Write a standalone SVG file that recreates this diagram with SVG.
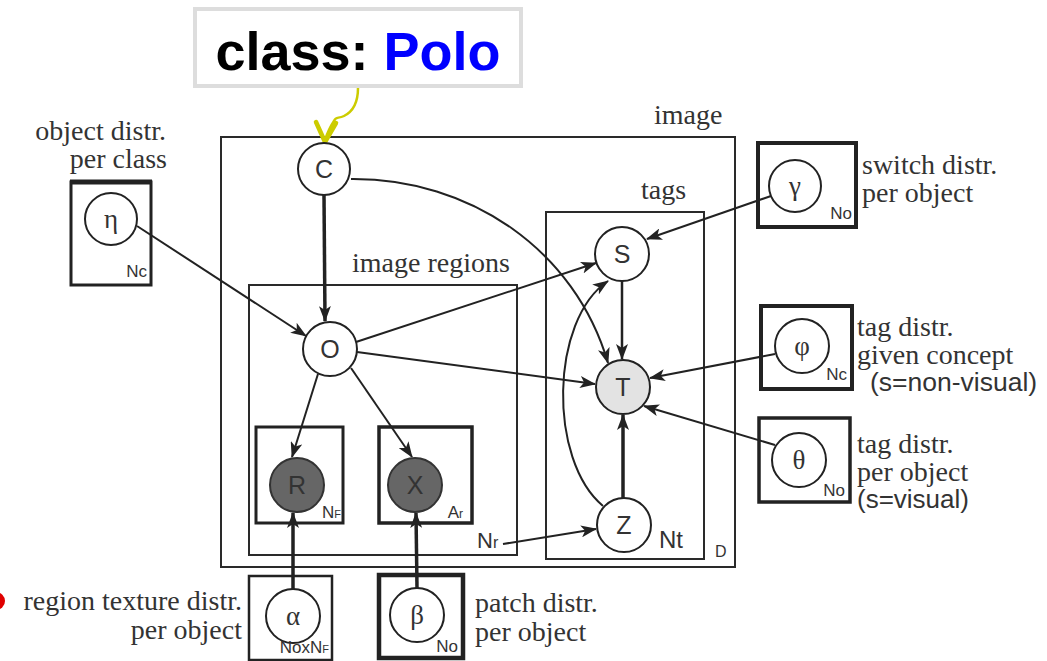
<svg xmlns="http://www.w3.org/2000/svg" width="1047" height="661" viewBox="0 0 1047 661">
<defs>
<marker id="ah" viewBox="0 0 16 12" refX="15" refY="6" markerWidth="16" markerHeight="12" markerUnits="userSpaceOnUse" orient="auto">
<path d="M0,0 L16,6 L0,12 L4,6 z" fill="#222"/>
</marker>
<style>
.plate{fill:none;stroke:#2a2a2a;stroke-width:2}
.pp{fill:none;stroke:#222;stroke-width:3.5}
.node{fill:#fff;stroke:#222;stroke-width:2}
.obs{fill:#666;stroke:#333;stroke-width:2}
.ser{font-family:"Liberation Serif","Times New Roman",serif;font-size:28px;fill:#333}
.sans{font-family:"Liberation Sans",Arial,sans-serif;fill:#333}
.nl{font-family:"Liberation Sans",Arial,sans-serif;font-size:25px;fill:#333;text-anchor:middle}
.gr{font-family:"Liberation Serif","Times New Roman",serif;font-size:27px;fill:#333;text-anchor:middle}
.sm{font-family:"Liberation Sans",Arial,sans-serif;font-size:17px;fill:#333;text-anchor:end}
.con{fill:none;stroke:#222;stroke-width:2;marker-end:url(#ah)}
.thick{stroke-width:3.5}
</style>
</defs>
<rect width="1047" height="661" fill="#fff"/>

<g id="class-label">
<rect x="195" y="9" width="326" height="77" fill="#fff" stroke="#dddddd" stroke-width="4"/>
<text x="358" y="70" text-anchor="middle" font-family="'Liberation Sans',Arial,sans-serif" font-weight="bold" font-size="54" fill="#000">class: <tspan fill="#0000ff">Polo</tspan></text>
</g>
<g id="red-mark"><circle cx="-4" cy="601" r="9" fill="#e00000"/></g>

<g id="plate-image">
<rect class="plate" x="221" y="137" width="514" height="430"/>
<text class="ser" x="654" y="124">image</text>
<text class="sans" x="715" y="557" font-size="16">D</text>
</g>
<g id="plate-regions">
<rect class="plate" x="249" y="285" width="268" height="270"/>
<text class="ser" x="352" y="272">image regions</text>
<text class="sans" x="477" y="548" font-size="22">N<tspan font-size="16">r</tspan></text>
</g>
<g id="plate-tags">
<rect class="plate" x="546" y="212" width="158" height="347"/>
<text class="ser" x="641" y="199">tags</text>
<text class="sans" x="659" y="548" font-size="24">Nt</text>
</g>

<g id="connectors">
<path d="M358,88 C358,104 352,112 344,116 C338,119 336,116 334,121 C330,127 327,134 325,140" fill="none" stroke="#cccc00" stroke-width="2.5"/>
<path d="M316,122 L325,142 L336,123" fill="none" stroke="#cccc00" stroke-width="4.5" stroke-linecap="round" stroke-linejoin="round"/>
<path class="con thick" d="M324,195 L325,321"/>
<path class="con" d="M137,226 L306,336"/>
<path class="con" d="M356,342 L596,263"/>
<path class="con" d="M357,352 L595,384"/>
<path class="con" d="M318,374 L292,457"/>
<path class="con" d="M351,368 L412,457"/>
<path class="con" d="M351,179 C470,178 575,250 608,363"/>
<path class="con" d="M622,281 L622,359" style="stroke-width:2.5"/>
<path class="con thick" d="M623,498 L623,415"/>
<path class="con" d="M603,506 C548,460 550,320 608,281"/>
<path class="con" d="M503,544 L596,529"/>
<path class="con" d="M771,196 L647,239"/>
<path class="con" d="M775,354 L650,378"/>
<path class="con" d="M775,445 L644,406"/>
<path class="con thick" d="M293,589 L293,513"/>
<path class="con thick" d="M417,588 L416,513"/>
</g>

<g id="node-C"><circle class="node" cx="324" cy="169" r="26"/><text class="nl" x="324" y="178">C</text></g>
<g id="node-O"><circle class="node" cx="330" cy="349" r="27"/><text class="nl" x="330" y="358">O</text></g>
<g id="node-S"><circle class="node" cx="622" cy="254" r="27"/><text class="nl" x="622" y="263">S</text></g>
<g id="node-T"><circle class="node" cx="623" cy="387" r="27" style="fill:#e3e3e3"/><text class="nl" x="623" y="396">T</text></g>
<g id="node-Z"><circle class="node" cx="624" cy="525" r="27"/><text class="nl" x="624" y="534">Z</text></g>

<g id="node-R">
<rect class="pp" x="256" y="427" width="87" height="96" style="stroke-width:3"/>
<circle class="obs" cx="297" cy="485" r="27"/><text class="nl" x="297" y="494">R</text>
<text class="sm" x="341" y="518" font-size="14">N<tspan font-size="11">F</tspan></text>
</g>
<g id="node-X">
<rect class="pp" x="379" y="427" width="93" height="96"/>
<circle class="obs" cx="415" cy="485" r="27"/><text class="nl" x="415" y="494">X</text>
<text class="sm" x="463" y="518" font-size="14">A<tspan font-size="12">r</tspan></text>
</g>

<g id="node-eta">
<rect class="pp" x="71" y="182" width="80" height="103" style="stroke-width:3"/>
<line x1="70" y1="182" x2="152" y2="182" stroke="#222" stroke-width="5"/>
<circle class="node" cx="111" cy="219" r="26"/><text class="gr" x="111" y="228">η</text>
<text class="sm" x="147" y="277">Nc</text>
<text class="ser" x="166" y="140" text-anchor="end">object distr.</text>
<text class="ser" x="167" y="168" text-anchor="end">per class</text>
</g>
<g id="node-gamma">
<rect class="pp" x="758" y="143" width="98" height="84" style="stroke-width:4"/>
<circle class="node" cx="795" cy="186" r="26"/><text class="gr" x="795" y="195">γ</text>
<text class="sm" x="852" y="219">No</text>
<text class="ser" x="862" y="174">switch distr.</text>
<text class="ser" x="862" y="202">per object</text>
</g>
<g id="node-phi">
<rect class="pp" x="761" y="306" width="91" height="83" style="stroke-width:4"/>
<circle class="node" cx="802" cy="346" r="27"/><text class="gr" x="802" y="355">φ</text>
<text class="sm" x="847" y="380">Nc</text>
<text class="ser" x="857" y="336">tag distr.</text>
<text class="ser" x="857" y="364">given concept</text>
<text class="sans" x="870" y="391" font-size="26.5">(s=non-visual)</text>
</g>
<g id="node-theta">
<rect class="pp" x="759" y="418" width="91" height="84"/>
<circle class="node" cx="799" cy="460" r="27"/><text class="gr" x="799" y="469">θ</text>
<text class="sm" x="845" y="496">No</text>
<text class="ser" x="857" y="453">tag distr.</text>
<text class="ser" x="857" y="481">per object</text>
<text class="sans" x="857" y="508" font-size="26">(s=visual)</text>
</g>
<g id="node-alpha">
<rect class="pp" x="249" y="576" width="83" height="84" style="stroke-width:2.5"/>
<circle class="node" cx="293" cy="616" r="27"/><text class="gr" x="293" y="625">α</text>
<text class="sm" x="329" y="653" font-size="14">NoxN<tspan font-size="11">F</tspan></text>
<text class="ser" x="242" y="610" text-anchor="end">region texture distr.</text>
<text class="ser" x="242" y="639" text-anchor="end">per object</text>
</g>
<g id="node-beta">
<rect class="pp" x="379" y="575" width="84" height="83" style="stroke-width:4.5"/>
<circle class="node" cx="417" cy="615" r="27"/><text class="gr" x="417" y="624">β</text>
<text class="sm" x="458" y="652">No</text>
<text class="ser" x="475" y="612">patch distr.</text>
<text class="ser" x="475" y="641">per object</text>
</g>
</svg>
